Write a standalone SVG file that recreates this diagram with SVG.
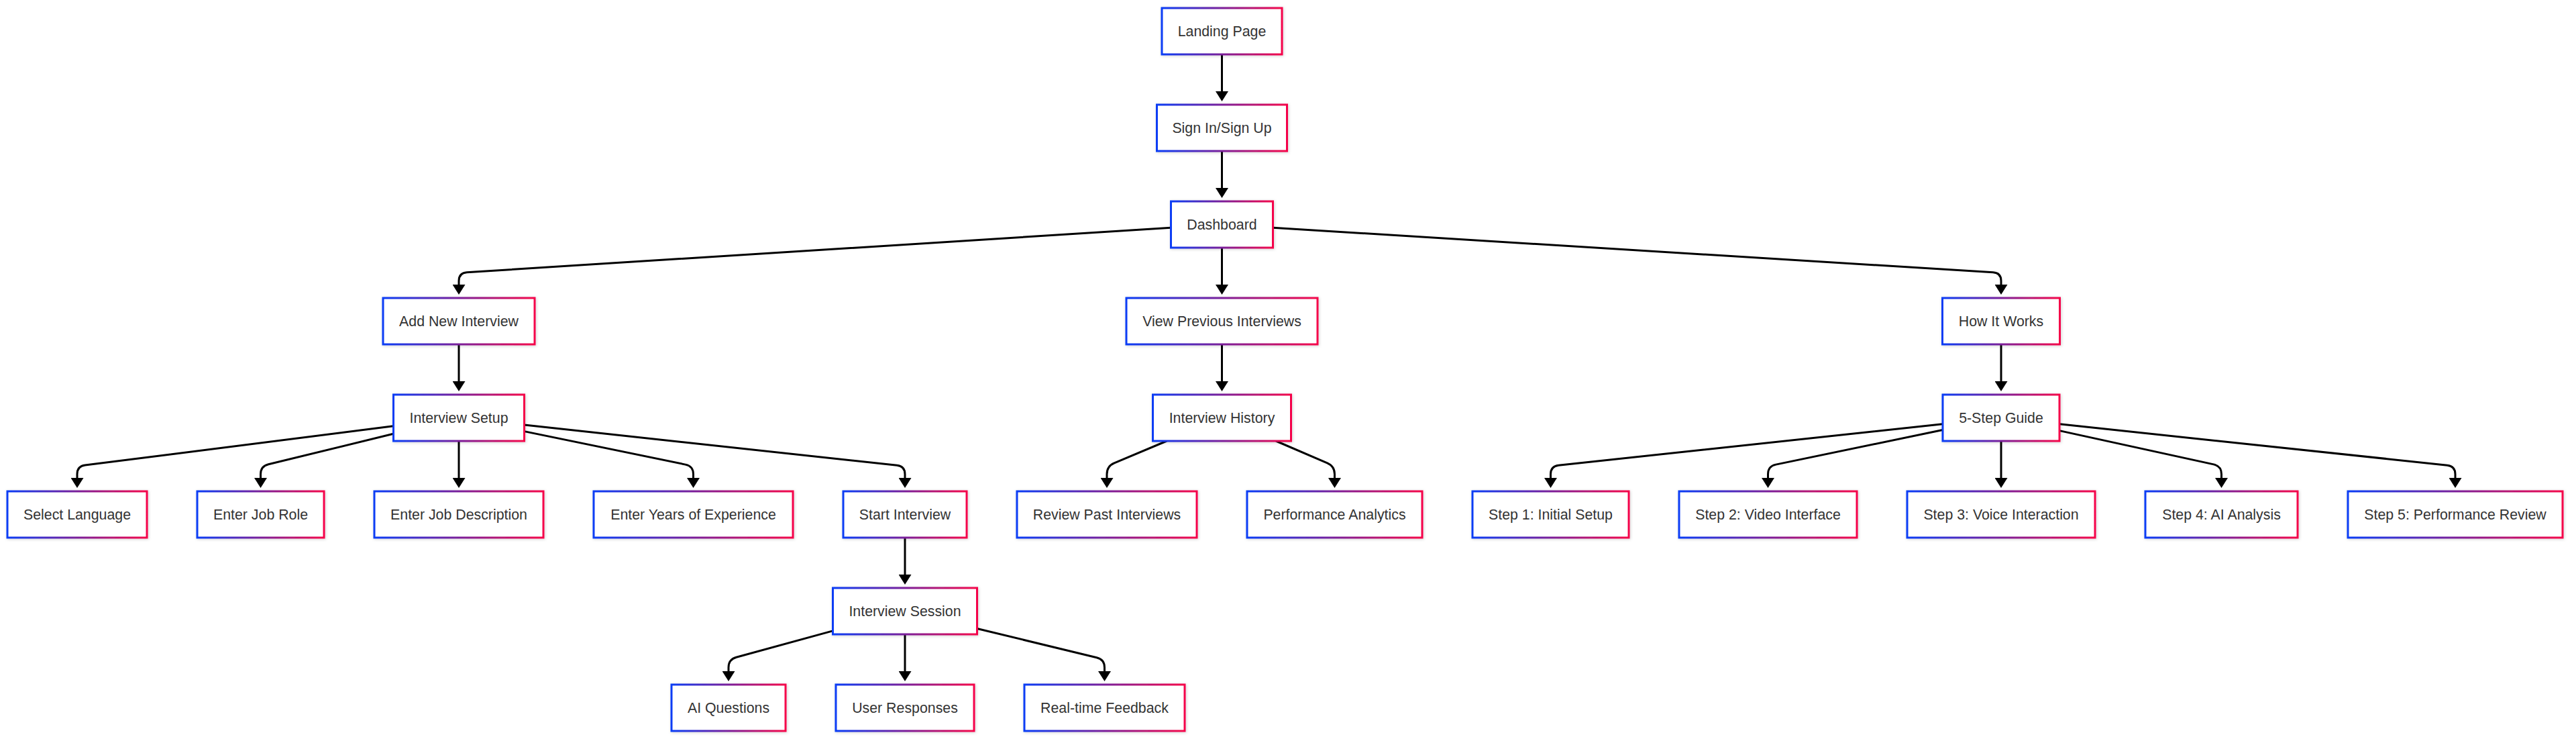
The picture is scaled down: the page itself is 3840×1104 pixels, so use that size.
<svg xmlns="http://www.w3.org/2000/svg" width="3840" height="1104" viewBox="0 0 3840 1104">
<style>
.n rect{fill:#ffffff;stroke:url(#g);stroke-width:3;filter:url(#sh)}
.n text{font-family:"Liberation Sans",Arial,sans-serif;font-size:21.33px;fill:#333333;text-anchor:middle}
.e path{fill:none;stroke:#000000;stroke-width:3;marker-end:url(#arr)}
</style>
<defs>
<linearGradient id="g" x1="0" y1="0" x2="1" y2="0">
<stop offset="0" stop-color="#0a3cf5"/>
<stop offset="0.5" stop-color="#7a1f9a"/>
<stop offset="1" stop-color="#f5064a"/>
</linearGradient>
<filter id="sh" x="-10%" y="-20%" width="120%" height="140%">
<feDropShadow dx="1" dy="1" stdDeviation="2" flood-color="#000000" flood-opacity="0.18"/>
</filter>
<marker id="arr" viewBox="0 0 15 19" refX="7" refY="9.5" markerWidth="15" markerHeight="19" markerUnits="userSpaceOnUse" orient="auto">
<path d="M0,0 L15,9.5 L0,19 z" fill="#000000"/>
</marker>
</defs>
<rect width="3840" height="1104" fill="#ffffff"/>
<g id="edges" class="e">
<path d="M1821.5,81 V143"/>
<path d="M1821.5,225 V287"/>
<path d="M1745.5,339.3 L696,405.7 Q684,406.5 684,418.5 L684,431"/>
<path d="M1821.5,369 V431"/>
<path d="M1897.5,339.2 L2971,405.8 Q2983,406.5 2983,418.5 L2983,431"/>
<path d="M684,513 V575"/>
<path d="M1821.5,513 V575"/>
<path d="M2983,513 V575"/>
<path d="M586.5,634.8 L126.9,693 Q115,694.5 115,706.5 L115,719"/>
<path d="M586.5,646.3 L400.2,691.7 Q388.5,694.5 388.5,706.5 L388.5,719"/>
<path d="M684,657 V719"/>
<path d="M781.5,642.6 L1021.7,692.1 Q1033.5,694.5 1033.5,706.5 L1033.5,719"/>
<path d="M781.5,633.1 L1337.1,693.2 Q1349,694.5 1349,706.5 L1349,719"/>
<path d="M1739.3,657 L1661.1,689.9 Q1650,694.5 1650,706.5 L1650,719"/>
<path d="M1902,657 L1978.5,689.8 Q1989.5,694.5 1989.5,706.5 L1989.5,719"/>
<path d="M2896,631.8 L2323.4,693.2 Q2311.5,694.5 2311.5,706.5 L2311.5,719"/>
<path d="M2896,640.5 L2647.3,692.1 Q2635.5,694.5 2635.5,706.5 L2635.5,719"/>
<path d="M2983,657 V719"/>
<path d="M3070,641.6 L3299.8,691.9 Q3311.5,694.5 3311.5,706.5 L3311.5,719"/>
<path d="M3070,631.8 L3648.1,693.2 Q3660,694.5 3660,706.5 L3660,719"/>
<path d="M1349,801 V863"/>
<path d="M1241.5,939.9 L1097.6,979.3 Q1086,982.5 1086,994.5 L1086,1007"/>
<path d="M1349,945 V1007"/>
<path d="M1456.5,936.5 L1634.9,979.7 Q1646.5,982.5 1646.5,994.5 L1646.5,1007"/>
</g>
<g id="landing" class="n"><rect x="1732" y="12" width="179" height="69"/><text x="1821.5" y="54">Landing Page</text></g>
<g id="signin" class="n"><rect x="1724.5" y="156" width="194" height="69"/><text x="1821.5" y="198">Sign In/Sign Up</text></g>
<g id="dashboard" class="n"><rect x="1745.5" y="300" width="152" height="69"/><text x="1821.5" y="342">Dashboard</text></g>
<g id="addnew" class="n"><rect x="571" y="444" width="226" height="69"/><text x="684" y="486">Add New Interview</text></g>
<g id="viewprev" class="n"><rect x="1679" y="444" width="285" height="69"/><text x="1821.5" y="486">View Previous Interviews</text></g>
<g id="howitworks" class="n"><rect x="2895.5" y="444" width="175" height="69"/><text x="2983" y="486">How It Works</text></g>
<g id="setup" class="n"><rect x="586.5" y="588" width="195" height="69"/><text x="684" y="630">Interview Setup</text></g>
<g id="history" class="n"><rect x="1718.5" y="588" width="206" height="69"/><text x="1821.5" y="630">Interview History</text></g>
<g id="guide" class="n"><rect x="2896" y="588" width="174" height="69"/><text x="2983" y="630">5-Step Guide</text></g>
<g id="lang" class="n"><rect x="11" y="732" width="208" height="69"/><text x="115" y="774">Select Language</text></g>
<g id="role" class="n"><rect x="294" y="732" width="189" height="69"/><text x="388.5" y="774">Enter Job Role</text></g>
<g id="desc" class="n"><rect x="558" y="732" width="252" height="69"/><text x="684" y="774">Enter Job Description</text></g>
<g id="years" class="n"><rect x="885" y="732" width="297" height="69"/><text x="1033.5" y="774">Enter Years of Experience</text></g>
<g id="start" class="n"><rect x="1257" y="732" width="184" height="69"/><text x="1349" y="774">Start Interview</text></g>
<g id="review" class="n"><rect x="1516" y="732" width="268" height="69"/><text x="1650" y="774">Review Past Interviews</text></g>
<g id="analytics" class="n"><rect x="1859" y="732" width="261" height="69"/><text x="1989.5" y="774">Performance Analytics</text></g>
<g id="step1" class="n"><rect x="2195" y="732" width="233" height="69"/><text x="2311.5" y="774">Step 1: Initial Setup</text></g>
<g id="step2" class="n"><rect x="2503" y="732" width="265" height="69"/><text x="2635.5" y="774">Step 2: Video Interface</text></g>
<g id="step3" class="n"><rect x="2843" y="732" width="280" height="69"/><text x="2983" y="774">Step 3: Voice Interaction</text></g>
<g id="step4" class="n"><rect x="3198" y="732" width="227" height="69"/><text x="3311.5" y="774">Step 4: AI Analysis</text></g>
<g id="step5" class="n"><rect x="3500" y="732" width="320" height="69"/><text x="3660" y="774">Step 5: Performance Review</text></g>
<g id="session" class="n"><rect x="1241.5" y="876" width="215" height="69"/><text x="1349" y="918">Interview Session</text></g>
<g id="aiq" class="n"><rect x="1001" y="1020" width="170" height="69"/><text x="1086" y="1062">AI Questions</text></g>
<g id="responses" class="n"><rect x="1246" y="1020" width="206" height="69"/><text x="1349" y="1062">User Responses</text></g>
<g id="feedback" class="n"><rect x="1527" y="1020" width="239" height="69"/><text x="1646.5" y="1062">Real-time Feedback</text></g>
</svg>
